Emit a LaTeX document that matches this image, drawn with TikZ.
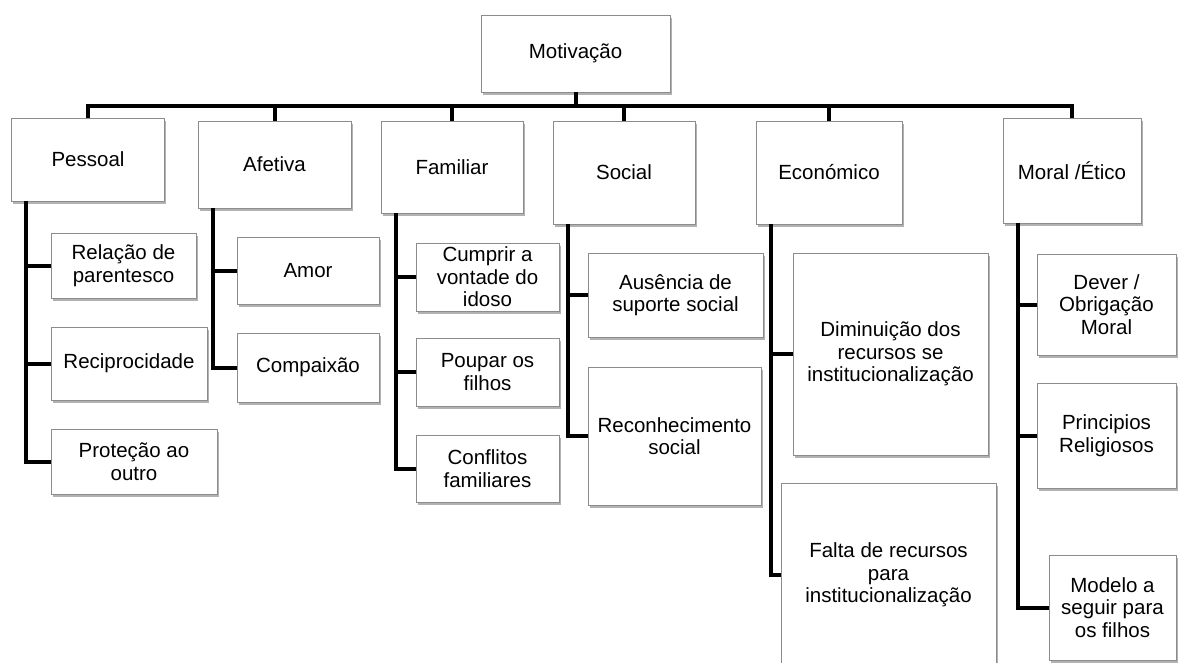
\documentclass[tikz,border=0pt]{standalone}
\usepackage{fontspec}
\setmainfont{Liberation Sans}
\usepackage{xcolor}
\usetikzlibrary{shadows}

\definecolor{boxgray}{RGB}{140,140,140}

\tikzset{
  motbox/.style={draw=boxgray, line width=0.8pt, fill=white, align=center,
    inner sep=2pt, font=\fontsize{20.5}{22.5}\selectfont,
    drop shadow={shadow xshift=1.5pt, shadow yshift=-2.5pt, opacity=0.3, fill=black}},
  branch/.style={line width=4pt, line join=miter}
}

\begin{document}
\begin{tikzpicture}[x=1pt,y=1pt,yscale=-1,xscale=1]
\useasboundingbox (0,0) rectangle (1179,662);

% Top node
\node[motbox, minimum width=189pt, minimum height=77pt] (mot) at (575.5,53.5) {Motivação};

% Level 1
\node[motbox, minimum width=153pt, minimum height=83pt] (pes) at (88,159.5) {Pessoal};
\node[motbox, minimum width=153pt, minimum height=87pt] (afe) at (274.5,164.5) {Afetiva};
\node[motbox, minimum width=142pt, minimum height=92pt] (fam) at (452,167) {Familiar};
\node[motbox, minimum width=142pt, minimum height=103pt] (soc) at (624,172.5) {Social};
\node[motbox, minimum width=146pt, minimum height=103pt] (eco) at (829,172.5) {Económico};
\node[motbox, minimum width=138pt, minimum height=105pt] (mor) at (1072,170.5) {Moral /Ético};

% Level 2
\node[motbox, minimum width=145pt, minimum height=65pt] (rel) at (123.5,265.5) {Relação de\\parentesco};
\node[motbox, minimum width=156pt, minimum height=73pt] (rec) at (129,363.5) {Reciprocidade};
\node[motbox, minimum width=166pt, minimum height=65pt] (pro) at (134,461.5) {Proteção ao\\outro};
\node[motbox, minimum width=142pt, minimum height=67pt] (amo) at (308,270.5) {Amor};
\node[motbox, minimum width=142pt, minimum height=69pt] (com) at (308,367.5) {Compaixão};
\node[motbox, minimum width=143pt, minimum height=68pt] (cum) at (487.5,277) {Cumprir a\\vontade do\\idoso};
\node[motbox, minimum width=143pt, minimum height=68pt] (pou) at (487.5,372) {Poupar os\\filhos};
\node[motbox, minimum width=143pt, minimum height=67pt] (con) at (487.5,468.5) {Conflitos\\familiares};
\node[motbox, minimum width=175pt, minimum height=84pt] (aus) at (675.5,295) {Ausência de\\suporte social};
\node[motbox, minimum width=173pt, minimum height=138pt] (rsoc) at (674.5,436) {Reconhecimento\\social};
\node[motbox, minimum width=195pt, minimum height=202pt] (dim) at (890.5,354) {Diminuição dos\\recursos se\\institucionalização};
\node[motbox, minimum width=215pt, minimum height=184pt] (fal) at (888.5,575) {Falta de recursos\\para\\institucionalização};
\node[motbox, minimum width=139pt, minimum height=101pt] (dev) at (1106.5,304.5) {Dever /\\Obrigação\\Moral};
\node[motbox, minimum width=139pt, minimum height=105pt] (pri) at (1106.5,435.5) {Principios\\Religiosos};
\node[motbox, minimum width=127pt, minimum height=105pt] (mod) at (1112.5,607.5) {Modelo a\\seguir para\\os filhos};

% Connectors
\coordinate (bus) at (0,106);
\draw[branch] (mot.south) -- (mot.south |- bus);
\draw[branch] (pes.north) -- (pes.north |- bus) -- (mor.north |- bus) -- (mor.north);
\foreach \n in {afe,fam,soc,eco}
  \draw[branch] (\n.north) -- (\n.north |- bus);

\foreach \p/\c in {pes/rel,pes/rec,pes/pro,afe/amo,afe/com,fam/cum,fam/pou,fam/con,
                   soc/aus,soc/rsoc,eco/dim,eco/fal,mor/dev,mor/pri,mor/mod}
  \draw[branch] ([xshift=15pt]\p.south west) |- (\c.west);

\end{tikzpicture}
\end{document}
